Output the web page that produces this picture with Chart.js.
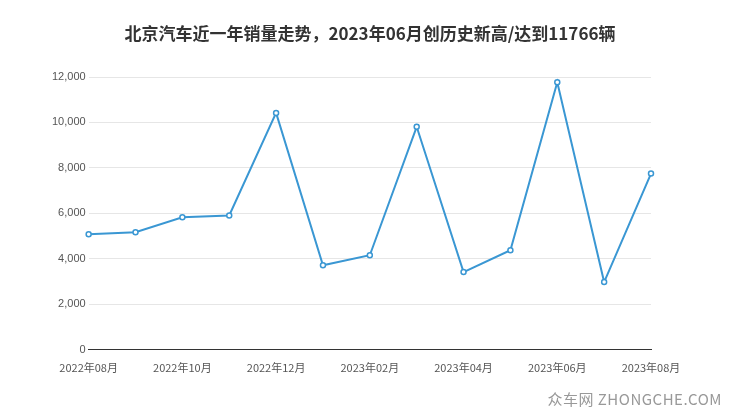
<!DOCTYPE html>
<html><head><meta charset="utf-8">
<script src="https://cdn.jsdelivr.net/npm/chart.js@4/dist/chart.umd.min.js"></script>
<style>html,body{margin:0;padding:0;background:#fff}#w{position:relative;width:740px;height:417px}
#t{position:absolute;left:0;top:20px;width:740px;text-align:center;font:bold 17px "Noto Sans CJK SC",sans-serif;color:#333}
#wm{position:absolute;right:18px;bottom:8px;font:15px "Noto Sans CJK SC",sans-serif;color:#999;letter-spacing:0.5px}</style>
</head><body><div id="w"><canvas id="c" width="740" height="417"></canvas><div id="t"></div><div id="wm">众车网 ZHONGCHE.COM</div></div>
<script>
const categories=["2022年08月","2022年09月","2022年10月","2022年11月","2022年12月","2023年01月","2023年02月","2023年03月","2023年04月","2023年05月","2023年06月","2023年07月","2023年08月"];
const sales=[5080,5170,5830,5910,10420,3720,4160,9810,3420,4380,11766,2980,7750];
const titleText="北京汽车近一年销量走势，2023年06月创历史新高/达到11766辆";
document.getElementById('t').textContent=titleText;
new Chart(document.getElementById('c'),{type:'line',
data:{labels:categories,datasets:[{data:sales,borderColor:'#3a97d3',borderWidth:2,pointBackgroundColor:'#fff',pointBorderColor:'#3a97d3',pointBorderWidth:1.5,pointRadius:2.5,tension:0}]},
options:{responsive:false,animation:false,layout:{padding:{left:49,right:89,top:77,bottom:40}},
plugins:{legend:{display:false},tooltip:{enabled:false}},
scales:{x:{offset:false,grid:{display:false,drawTicks:true},border:{color:'#333'},ticks:{autoSkip:false,maxRotation:0,color:'#555',font:{size:11,family:'"Noto Sans CJK SC"'},callback:(v,i)=>i%2===0?categories[i]:''}},
y:{min:0,max:12000,ticks:{stepSize:2000,color:'#555',font:{size:11},callback:v=>v.toLocaleString('en-US')},grid:{color:'#e6e6e6',drawTicks:false},border:{display:false}}}}});
</script></body></html>
